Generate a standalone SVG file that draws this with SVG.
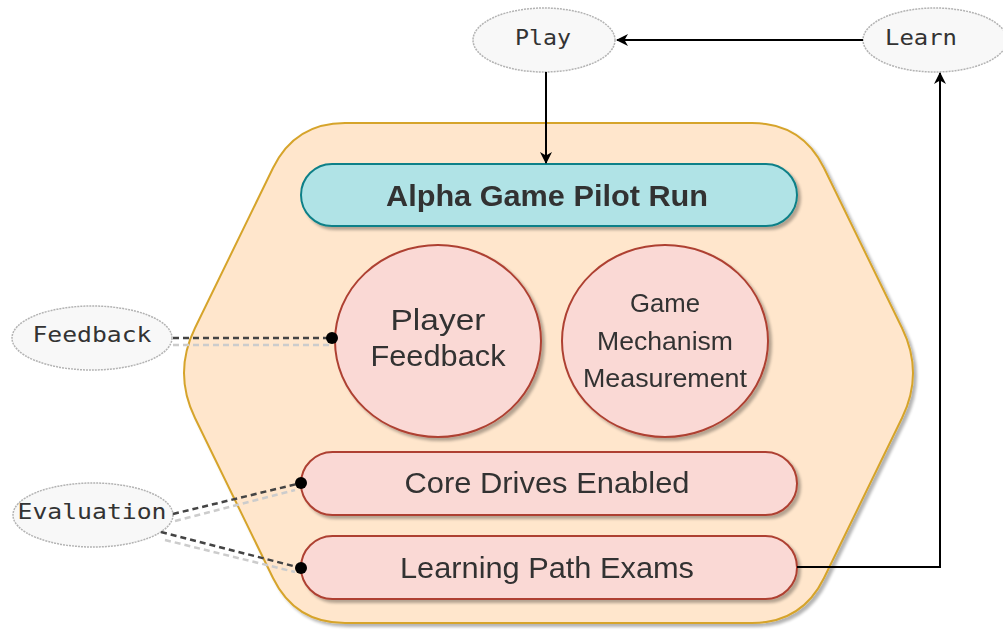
<svg xmlns="http://www.w3.org/2000/svg" width="1003" height="630" viewBox="0 0 1003 630">
<defs>
<filter id="sh" x="-10%" y="-10%" width="130%" height="130%">
<feGaussianBlur in="SourceAlpha" stdDeviation="1.5"/>
<feOffset dx="3" dy="3" result="b"/>
<feComponentTransfer><feFuncA type="linear" slope="0.3"/></feComponentTransfer>
<feMerge><feMergeNode/><feMergeNode in="SourceGraphic"/></feMerge>
</filter>
<marker id="arr" viewBox="0 0 12 12" refX="11" refY="6" markerWidth="12" markerHeight="12" markerUnits="userSpaceOnUse" orient="auto">
<path d="M0,0 L12,6 L0,12 L3.5,6 Z" fill="#000"/>
</marker>
<marker id="dot" viewBox="0 0 12 12" refX="6" refY="6" markerWidth="12" markerHeight="12" markerUnits="userSpaceOnUse">
<circle cx="6" cy="6" r="6" fill="#000"/>
</marker>
</defs>
<style>
.lbl{fill:#f8f8f8;stroke:#b3b3b3;stroke-width:1.5;stroke-dasharray:2 1}
.mono{font-family:"DejaVu Sans Mono","Liberation Mono",monospace;font-size:21px;fill:#333;text-anchor:middle;dominant-baseline:central}
.pink{fill:#fad9d5;stroke:#ae4132;stroke-width:2}
.t{font-family:"Liberation Sans",Arial,sans-serif;fill:#333;text-anchor:middle;dominant-baseline:central}
.dash{fill:none;stroke:#444;stroke-width:2.5;stroke-dasharray:6 4}
.dashs{fill:none;stroke:#ccc;stroke-width:2.5;stroke-dasharray:6 4}
.edge{fill:none;stroke:#000;stroke-width:2}
</style>
<g id="container" filter="url(#sh)">
<path d="M345,123 L752,123 Q802,123 824,168 L902,328 Q924,373 902,418 L824,578 Q802,623 752,623 L345,623 Q295,623 273,578 L195,418 Q173,373 195,328 L273,168 Q295,123 345,123 Z" fill="#ffe6cc" stroke="#d6a42c" stroke-width="2"/>
</g>
<g id="alpha" filter="url(#sh)">
<rect x="301" y="164" width="496" height="62" rx="31" fill="#b0e3e6" stroke="#0e8088" stroke-width="2"/>
<text class="t" x="547" y="196" font-size="29" font-weight="bold" fill="#111" textLength="322" lengthAdjust="spacingAndGlyphs">Alpha Game Pilot Run</text>
</g>
<g id="player-feedback" filter="url(#sh)">
<ellipse class="pink" cx="438" cy="341" rx="103" ry="96"/>
<text class="t" x="438" y="320" font-size="29" textLength="95" lengthAdjust="spacingAndGlyphs">Player</text>
<text class="t" x="438" y="356" font-size="29" textLength="135" lengthAdjust="spacingAndGlyphs">Feedback</text>
</g>
<g id="game-mechanism" filter="url(#sh)">
<ellipse class="pink" cx="665" cy="341" rx="103" ry="96"/>
<text class="t" x="665" y="303" font-size="25" textLength="70" lengthAdjust="spacingAndGlyphs">Game</text>
<text class="t" x="665" y="341" font-size="25" textLength="136" lengthAdjust="spacingAndGlyphs">Mechanism</text>
<text class="t" x="665" y="378" font-size="25" textLength="164" lengthAdjust="spacingAndGlyphs">Measurement</text>
</g>
<g id="core-drives" filter="url(#sh)">
<rect class="pink" x="301" y="452" width="496" height="63" rx="31.5"/>
<text class="t" x="547" y="483" font-size="29" textLength="285" lengthAdjust="spacingAndGlyphs">Core Drives Enabled</text>
</g>
<g id="learning-path" filter="url(#sh)">
<rect class="pink" x="301" y="536" width="496" height="63" rx="31.5"/>
<text class="t" x="547" y="568" font-size="29" textLength="294" lengthAdjust="spacingAndGlyphs">Learning Path Exams</text>
</g>
<g id="play">
<ellipse class="lbl" cx="544" cy="40" rx="71" ry="32"/>
<text class="mono" x="543" y="38" textLength="56" lengthAdjust="spacingAndGlyphs">Play</text>
</g>
<g id="learn">
<ellipse class="lbl" cx="935" cy="40" rx="72" ry="32"/>
<text class="mono" x="921" y="38" textLength="72" lengthAdjust="spacingAndGlyphs">Learn</text>
</g>
<g id="feedback">
<ellipse class="lbl" cx="92" cy="338" rx="80" ry="32"/>
<text class="mono" x="92" y="335" textLength="119" lengthAdjust="spacingAndGlyphs">Feedback</text>
</g>
<g id="evaluation">
<ellipse class="lbl" cx="93" cy="515" rx="80" ry="32"/>
<text class="mono" x="92" y="512" textLength="149" lengthAdjust="spacingAndGlyphs">Evaluation</text>
</g>
<g id="connectors">
<path class="edge" d="M546,72 L546,163" marker-end="url(#arr)"/>
<path class="edge" d="M863,40 L617,40" marker-end="url(#arr)"/>
<path class="edge" d="M797,567 L940,567 L940,73" marker-end="url(#arr)"/>
<path class="dashs" d="M173,345 L332,345"/>
<path class="dash" d="M173,338 L332,338" marker-end="url(#dot)"/>
<path class="dashs" d="M175,521 L295,490"/>
<path class="dash" d="M173,514 L301,483" marker-end="url(#dot)"/>
<path class="dashs" d="M165,540 L295,572"/>
<path class="dash" d="M161,532 L301,568" marker-end="url(#dot)"/>
</g>
</svg>
